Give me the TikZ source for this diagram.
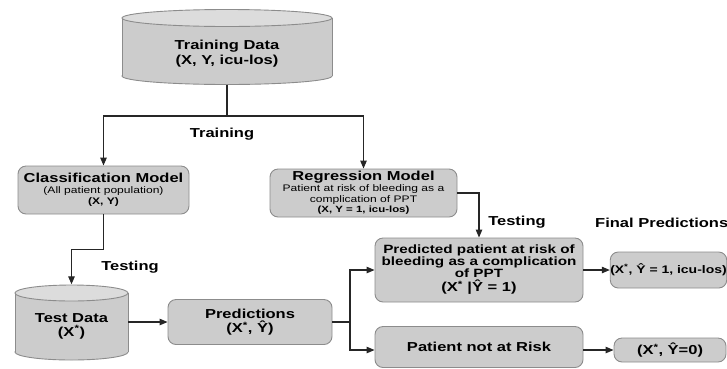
\documentclass[tikz,border=0pt]{standalone}
\usepackage{fontspec}
\setmainfont{Liberation Sans}[FakeStretch=1.27]
\usetikzlibrary{arrows.meta}
\definecolor{boxfill}{HTML}{CCCCCC}
\definecolor{boxline}{HTML}{8C8C8C}
\definecolor{cyltop}{HTML}{DCDCDC}
\newcommand\mycyl[5]{%
  \pgfmathsetmacro\cylcx{(#1+#2)/2}%
  \pgfmathsetmacro\cylrx{(#2-#1)/2}%
  \draw[draw=boxline, fill=boxfill, line width=0.9pt] (\cylcx,#4) ellipse ({\cylrx pt} and #5pt);
  \fill[boxfill] (#1,#3) rectangle (#2,#4);
  \draw[boxline, line width=0.9pt] (#1,#3) -- (#1,#4) (#2,#3) -- (#2,#4);
  \draw[draw=boxline, fill=cyltop, line width=0.9pt] (\cylcx,#3) ellipse ({\cylrx pt} and #5pt);
}
\tikzset{
  box/.style={draw=boxline, fill=boxfill, rounded corners=8pt, line width=0.9pt,
    align=center, inner sep=0pt},
  conn/.style={line width=1.1pt, draw=black!85},
  arr/.style={conn, -{Triangle[length=8pt,width=6.5pt]}},
  lab/.style={font=\fontsize{13}{15}\selectfont\bfseries, inner sep=0pt, align=center},
  ghost/.style={inner sep=0pt, draw=none}
}
\begin{document}
\begin{tikzpicture}[x=1pt,y=-1pt]
\useasboundingbox (0,0) rectangle (727,368);

% cylinders
\mycyl{122}{332}{18}{76}{8.5}
\node[ghost, minimum width=210pt, minimum height=75pt] (train) at (227,47) {};
\node[lab] (traintxt) at (227,54) {Training Data\\(X, Y, icu-los)};

\mycyl{15}{128}{293}{352}{8}
\node[ghost, minimum width=113pt, minimum height=75pt] (test) at (71.5,322) {};
\node[lab, font=\fontsize{13}{14}\selectfont\bfseries] (testtxt) at (71.5,326) {Test Data\\(X\textsuperscript{*})};

% boxes
\node[box, minimum width=171pt, minimum height=48pt, font=\fontsize{9.5}{11}\selectfont] (class) at (103.5,190)
  {{\fontsize{13}{13}\selectfont\bfseries Classification Model}\\
   (All patient population)\\
   {\bfseries (X, Y)}};

\node[box, minimum width=187pt, minimum height=48pt, font=\fontsize{9.5}{10.7}\selectfont] (regr) at (363.5,193)
  {{\fontsize{13}{13}\selectfont\bfseries Regression Model}\\
   Patient at risk of bleeding as a\\
   complication of PPT\\
   {\fontsize{9}{10}\selectfont\bfseries (X, Y = 1, icu-los)}};

\node[box, minimum width=208pt, minimum height=64pt, font=\fontsize{12}{12}\selectfont\bfseries] (pred) at (479,270)
  {Predicted patient at risk of\\
   bleeding as a complication\\
   of PPT\\[2pt]
   {\fontsize{13}{13}\selectfont (X\textsuperscript{*} |Ŷ = 1)}};

\node[box, minimum width=164pt, minimum height=45pt, font=\fontsize{13}{14.5}\selectfont\bfseries] (pbox) at (250,322)
  {Predictions\\(X\textsuperscript{*}, Ŷ)};

\node[box, minimum width=208pt, minimum height=41pt, font=\fontsize{13}{15}\selectfont\bfseries] (norisk) at (479,347)
  {Patient not at Risk};

\node[box, minimum width=115pt, minimum height=36pt, font=\fontsize{11}{13}\selectfont\bfseries] (final1) at (668.5,270)
  {(X\textsuperscript{*}, Ŷ = 1, icu-los)};

\node[box, minimum width=112pt, minimum height=24pt, font=\fontsize{13}{15}\selectfont\bfseries] (final2) at (670,350)
  {(X\textsuperscript{*}, Ŷ=0)};

% labels
\node[lab] (ltrain) at (222,134) {Training};
\node[lab] (ltest1) at (130,267) {Testing};
\node[lab] (ltest2) at (517,222) {Testing};
\node[lab, anchor=west] (lfinal) at (595,223) {Final Predictions};

% connectors
\coordinate (split) at (227,116);
\draw[conn] (train.south) -- (split);
\draw[arr] (split) -| (class.north);
\draw[arr] (split) -| (regr.north);
\draw[arr] (class.south) -- ++(0,35) -| (test.north);
\draw[arr] (regr.east) -| (pred.north);
\draw[arr] (test.east) -- (pbox.west);
\coordinate (fork) at (350,322);
\draw[conn] (pbox.east) -- (fork);
\draw[arr] (fork) |- (pred.west);
\draw[arr] (fork) |- (final2.west -| norisk.west);
\draw[arr] (pred.east) -- (final1.west);
\draw[arr] (final2.west -| norisk.east) -- (final2.west);
\end{tikzpicture}
\end{document}
